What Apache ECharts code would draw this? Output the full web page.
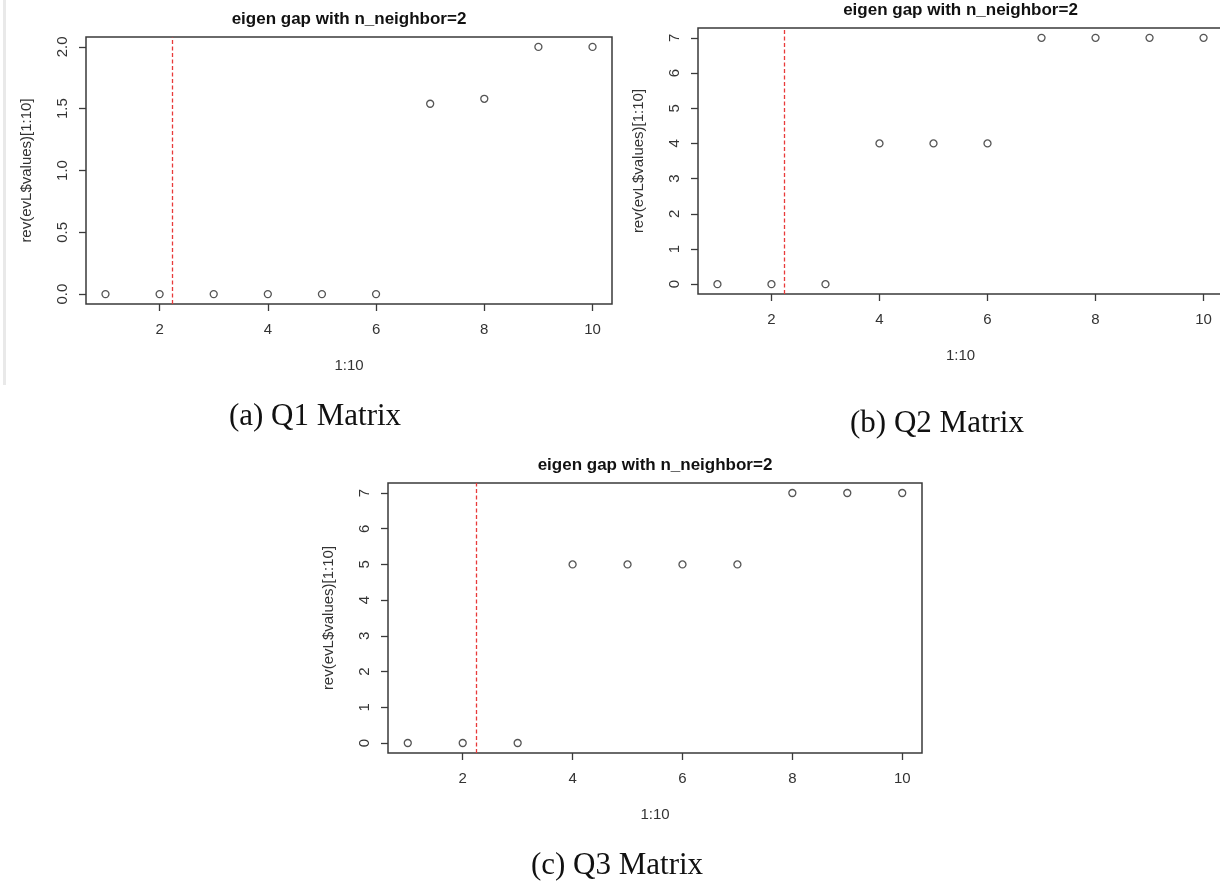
<!DOCTYPE html>
<html>
<head>
<meta charset="utf-8">
<script src="https://cdn.jsdelivr.net/npm/echarts@6/dist/echarts.min.js"></script>
<style>
html,body{margin:0;padding:0;background:#fff;}
#chart{width:1220px;height:886px;}
</style>
</head>
<body>
<div id="chart"></div>
<script>
// ---- data ----
const xValues = [1, 2, 3, 4, 5, 6, 7, 8, 9, 10];
const q1Values = [0, 0, 0, 0, 0, 0, 1.54, 1.58, 2, 2];
const q2Values = [0, 0, 0, 4, 4, 4, 7, 7, 7, 7];
const q3Values = [0, 0, 0, 5, 5, 5, 5, 7, 7, 7];
const gapLineX = 2.24;
const xTicks = [2, 4, 6, 8, 10];
const q1YTicks = [0, 0.5, 1, 1.5, 2];
const q23YTicks = [0, 1, 2, 3, 4, 5, 6, 7];
const plotTitle = 'eigen gap with n_neighbor=2';
const xName = '1:10';
const yName = 'rev(evL$values)[1:10]';
const captions = ['(a) Q1 Matrix', '(b) Q2 Matrix', '(c) Q3 Matrix'];

// ---- layout ----
const panels = [
  {grid: {left: 86, top: 37, width: 526, height: 267}, values: q1Values, yTicks: q1YTicks, yMin: -0.08, yMax: 2.08, dec: 1, caption: {x: 315, y: 417}},
  {grid: {left: 698, top: 28, width: 525, height: 266}, values: q2Values, yTicks: q23YTicks, yMin: -0.28, yMax: 7.28, dec: 0, caption: {x: 937, y: 424}},
  {grid: {left: 388, top: 483, width: 534, height: 270}, values: q3Values, yTicks: q23YTicks, yMin: -0.28, yMax: 7.28, dec: 0, caption: {x: 617, y: 866}}
];

const ink = '#3a3a3a';
const textCol = '#333';
const sans = 'Liberation Sans, Arial, sans-serif';

const grids = [], xAxes = [], yAxes = [], series = [], graphics = [];
panels.forEach((p, i) => {
  grids.push(Object.assign({show: true, borderColor: ink, borderWidth: 1.5, backgroundColor: '#fff', outerBoundsMode: 'none', containLabel: false}, p.grid));
  xAxes.push({
    type: 'value', gridIndex: i, min: 0.64, max: 10.36, position: 'bottom',
    axisLine: {show: false, onZero: false},
    splitLine: {show: false},
    axisTick: {show: true, inside: false, length: 7, customValues: xTicks, lineStyle: {color: ink, width: 1.3}},
    axisLabel: {show: true, customValues: xTicks, margin: 18, color: textCol, fontSize: 15, fontFamily: sans, showMinLabel: true, showMaxLabel: true},
    name: xName, nameLocation: 'middle', nameGap: 54,
    nameTextStyle: {color: textCol, fontSize: 15, fontFamily: sans}
  });
  yAxes.push({
    type: 'value', gridIndex: i, min: p.yMin, max: p.yMax, position: 'left',
    axisLine: {show: false, onZero: false},
    splitLine: {show: false},
    axisTick: {show: true, inside: false, length: 7, customValues: p.yTicks, lineStyle: {color: ink, width: 1.3}},
    axisLabel: {show: true, customValues: p.yTicks, rotate: 90, margin: 16, color: textCol, fontSize: 15, fontFamily: sans,
      formatter: v => Number(v).toFixed(p.dec)},
    name: yName, nameLocation: 'middle', nameGap: 52, nameRotate: 90,
    nameTextStyle: {color: textCol, fontSize: 15, fontFamily: sans}
  });
  series.push({
    type: 'scatter', xAxisIndex: i, yAxisIndex: i,
    data: xValues.map((x, k) => [x, p.values[k]]),
    symbol: 'circle', symbolSize: 7,
    itemStyle: {color: 'rgba(255,255,255,0)', borderColor: '#2a2a2a', borderWidth: 1.3},
    emphasis: {disabled: true},
    silent: true,
    markLine: {
      silent: true, symbol: ['none', 'none'], animation: false,
      label: {show: false},
      lineStyle: {color: '#e83a3a', type: [4, 2.5], width: 1.3},
      data: [{xAxis: gapLineX}]
    }
  });
  // plot title
  graphics.push({
    type: 'text', x: p.grid.left + p.grid.width / 2, y: p.grid.top - 18,
    style: {text: plotTitle, fill: '#111', font: 'bold 17px ' + sans, textAlign: 'center', textVerticalAlign: 'middle'}
  });
  // caption
  graphics.push({
    type: 'text', x: p.caption.x, y: p.caption.y,
    style: {text: captions[i], fill: '#111', font: '31px Liberation Serif, Times New Roman, serif', textAlign: 'center', textVerticalAlign: 'middle'}
  });
});

// light gray screenshot edge on the left of panel (a)
graphics.push({type: 'rect', shape: {x: 3, y: 0, width: 3, height: 385}, style: {fill: '#e9e9e9'}});

const chart = echarts.init(document.getElementById('chart'), null, {renderer: 'canvas'});
chart.setOption({
  animation: false,
  backgroundColor: '#fff',
  grid: grids,
  xAxis: xAxes,
  yAxis: yAxes,
  series: series,
  graphic: graphics
});
</script>
</body>
</html>
